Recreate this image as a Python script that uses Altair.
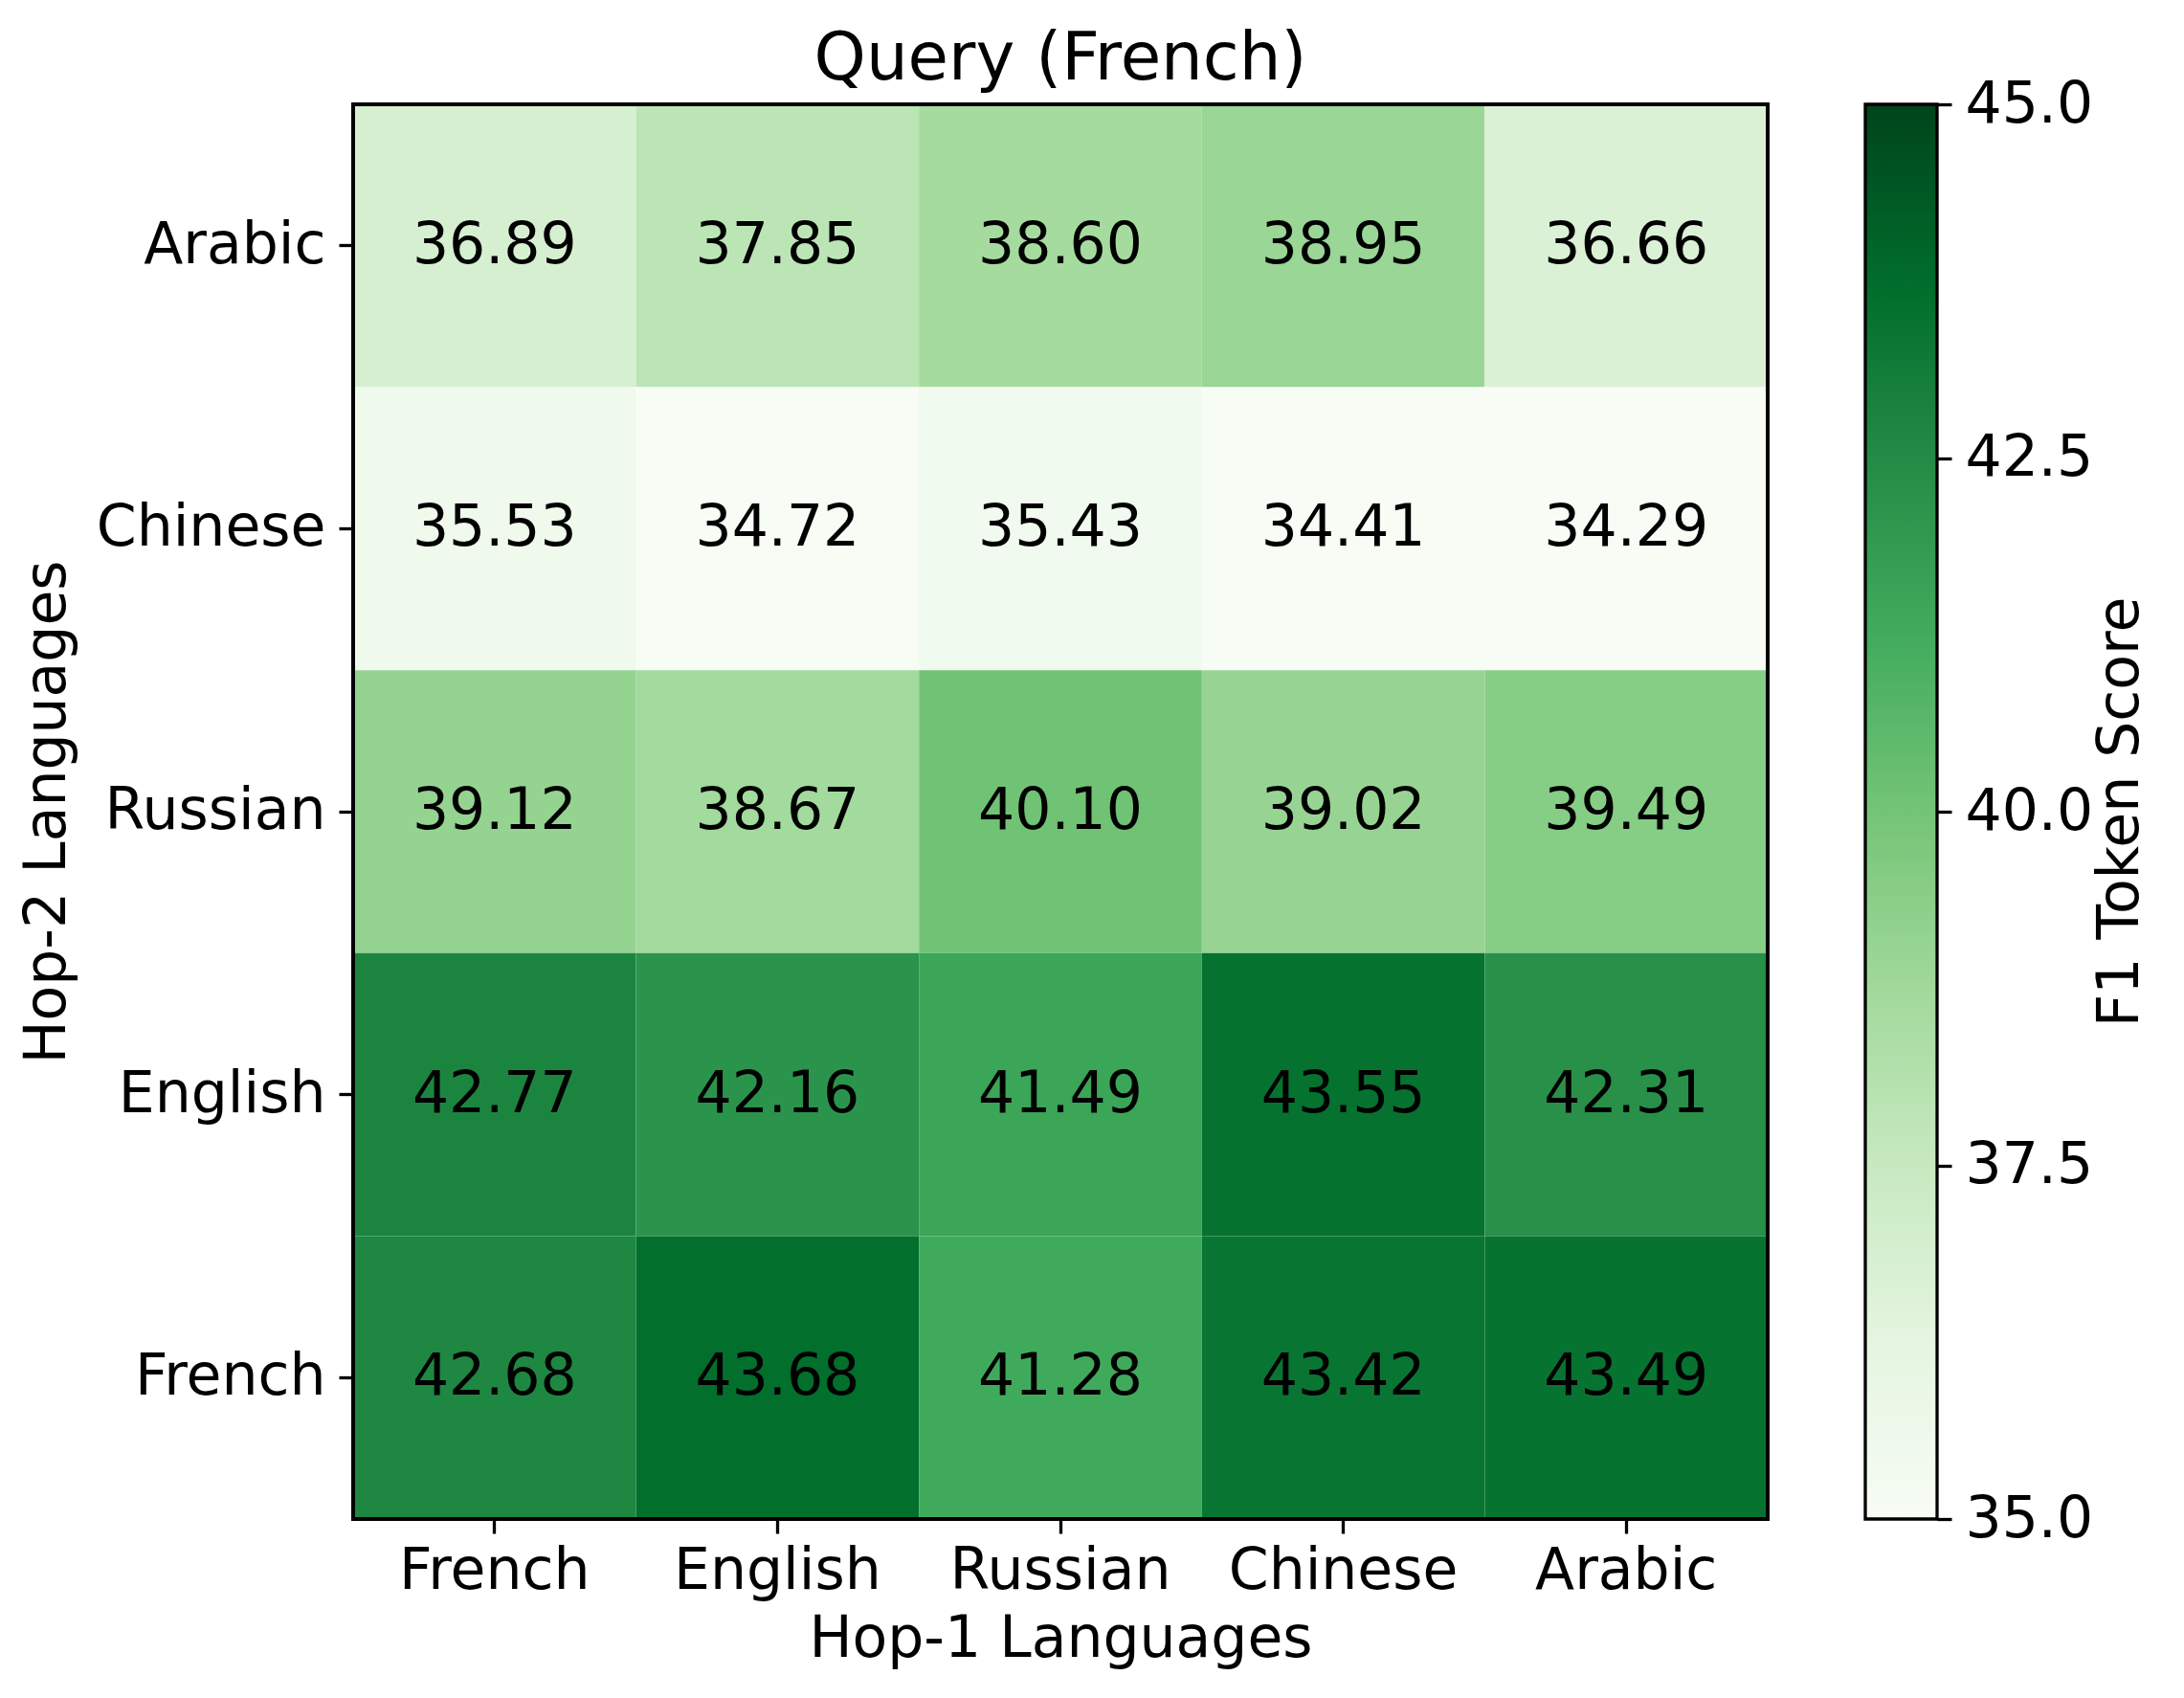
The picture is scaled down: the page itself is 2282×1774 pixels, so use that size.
import altair as alt
import pandas as pd

hop1 = ["French", "English", "Russian", "Chinese", "Arabic"]
hop2 = ["Arabic", "Chinese", "Russian", "English", "French"]  # top to bottom

row_arabic = [36.89, 37.85, 38.60, 38.95, 36.66]
row_chinese = [35.53, 34.72, 35.43, 34.41, 34.29]
row_russian = [39.12, 38.67, 40.10, 39.02, 39.49]
row_english = [42.77, 42.16, 41.49, 43.55, 42.31]
row_french = [42.68, 43.68, 41.28, 43.42, 43.49]

rows = [row_arabic, row_chinese, row_russian, row_english, row_french]

greens = ["#f7fcf5", "#e5f5e0", "#c7e9c0", "#a1d99b", "#74c476",
          "#41ab5d", "#238b45", "#006d2c", "#00441b"]
vmin, vmax = 35.0, 45.0
cbar_ticks = [35.0, 37.5, 40.0, 42.5, 45.0]

records = []
for h2, vals in zip(hop2, rows):
    for h1, v in zip(hop1, vals):
        records.append({"hop1": h1, "hop2": h2, "score": v})
df = pd.DataFrame(records)

FONT = "DejaVu Sans"
FS = 60
W = H = 1478

stops_dom = [vmin + i * (vmax - vmin) / (len(greens) - 1) for i in range(len(greens))]

base = alt.Chart(df)

heat = base.mark_rect().encode(
    x=alt.X("hop1:N", sort=hop1,
            scale=alt.Scale(paddingInner=0, paddingOuter=0),
            axis=alt.Axis(title="Hop-1 Languages", labelAngle=0, domain=False,
                          tickSize=15, tickWidth=3.3, tickColor="black",
                          labelPadding=10, titlePadding=12, labelFontSize=FS,
                          titleFontSize=FS, labelFont=FONT, titleFont=FONT,
                          labelColor="black", titleColor="black",
                          titleFontWeight="normal", labelLimit=500,
                          maxExtent=400)),
    y=alt.Y("hop2:N", sort=hop2,
            scale=alt.Scale(paddingInner=0, paddingOuter=0),
            axis=alt.Axis(title="Hop-2 Languages", domain=False, orient="left",
                          tickSize=15, tickWidth=3.3, tickColor="black",
                          labelPadding=14, titlePadding=20, labelFontSize=FS,
                          titleFontSize=FS, labelFont=FONT, titleFont=FONT,
                          labelColor="black", titleColor="black",
                          titleFontWeight="normal", labelLimit=500,
                          maxExtent=400)),
    color=alt.Color("score:Q",
                    scale=alt.Scale(domain=stops_dom, range=greens,
                                    interpolate="rgb", clamp=True),
                    legend=None),
)

text = base.mark_text(font=FONT, fontSize=FS, color="black").encode(
    x=alt.X("hop1:N", sort=hop1),
    y=alt.Y("hop2:N", sort=hop2),
    text=alt.Text("score:Q", format=".2f"),
)

frame = base.mark_rect(fillOpacity=0, stroke="black", strokeWidth=3.3).encode(
    x=alt.value(0), x2=alt.value(W), y=alt.value(0), y2=alt.value(H),
)

heat_layer = alt.layer(heat, text, frame)

grad = alt.LinearGradient(
    gradient="linear", x1=0, y1=1, x2=0, y2=0,
    stops=[alt.GradientStop(offset=i / (len(greens) - 1), color=c)
           for i, c in enumerate(greens)],
)

cb_df = pd.DataFrame({"lo": [vmin], "hi": [vmax]})
cbar = alt.Chart(cb_df).mark_rect(fill=grad, stroke="black", strokeWidth=3.3).encode(
    x=alt.value(1580),
    x2=alt.value(1655),
    y=alt.Y("lo:Q",
            scale=alt.Scale(domain=[vmin, vmax], nice=False, zero=False),
            axis=alt.Axis(orient="right", offset=177, values=cbar_ticks,
                          format=".1f", title="F1 Token Score", domain=False,
                          grid=False, tickSize=15, tickWidth=3.3,
                          tickColor="black", labelPadding=14,
                          labelFontSize=FS, titleFontSize=FS, labelFont=FONT,
                          titleFont=FONT, labelColor="black",
                          titleColor="black", titleFontWeight="normal",
                          titleAngle=270, titleBaseline="top", titlePadding=0,
                          labelBaseline="middle", labelLimit=500,
                          maxExtent=400)),
    y2="hi:Q",
)

chart = alt.layer(heat_layer, cbar).resolve_scale(y="independent").properties(
    width=W, height=H,
    padding={"top": 20, "left": 11, "right": 5, "bottom": 5},
    title=alt.TitleParams("Query (French)", font=FONT, fontSize=69,
                          fontWeight="normal", color="black", offset=-18),
).configure_view(stroke=None).configure(background="white")

chart.save("out.html", embed_options={"renderer": "svg", "actions": False})
